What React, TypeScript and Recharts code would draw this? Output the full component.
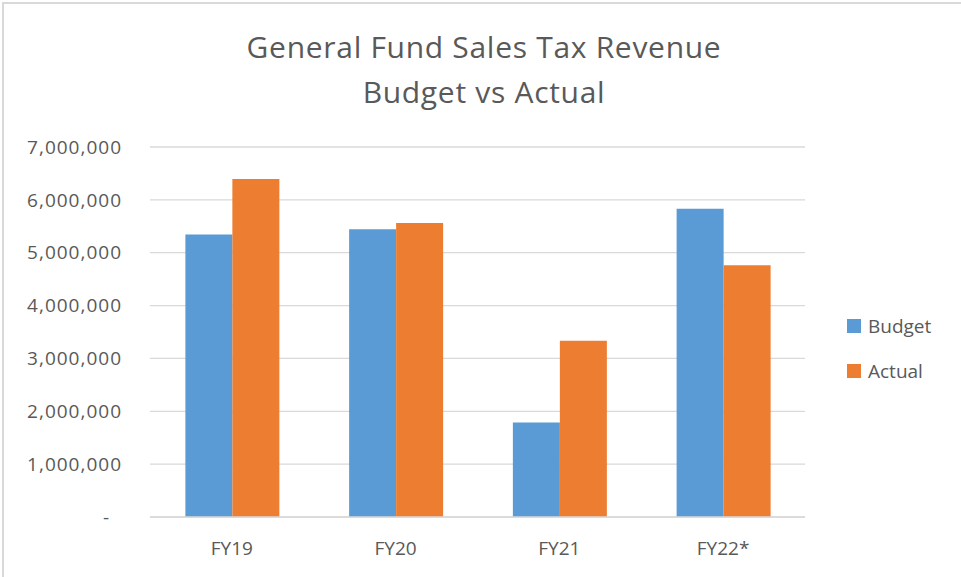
import React from "react";
import { Bar, BarChart, CartesianGrid, XAxis, YAxis } from "recharts";

const years = ["FY19", "FY20", "FY21", "FY22*"];
const budget = [5344000, 5446000, 1789000, 5830000];
const actual = [6394000, 5560000, 3335000, 4764000];
const yTicks = [0, 1000000, 2000000, 3000000, 4000000, 5000000, 6000000, 7000000];

const series = [
  { key: "Budget", color: "#5b9bd5" },
  { key: "Actual", color: "#ed7d31" },
];

const data = years.map((fy, i) => ({ fy, Budget: budget[i], Actual: actual[i] }));

const FONT = "'Open Sans', 'Noto Sans', sans-serif";
const TEXT = "#595959";

const YTick = (props: any) => {
  const { x, y, payload } = props;
  const v = payload.value;
  const label = v === 0 ? "-" : v.toLocaleString("en-US");
  return (
    <text
      x={v === 0 ? x - 12 : x}
      y={y}
      dy="0.35em"
      textAnchor="end"
      fill={TEXT}
      fontSize={19}
      fontFamily={FONT}
      letterSpacing={1}
    >
      {label}
    </text>
  );
};

export default function App() {
  return (
    <div
      style={{
        position: "absolute",
        left: 0,
        top: 0,
        width: 961,
        height: 577,
        overflow: "hidden",
        background: "#fff",
      }}
    >
      <div
        style={{
          position: "absolute",
          left: 2,
          top: 2,
          width: 1000,
          height: 700,
          borderTop: "2px solid #d9d9d9",
          borderLeft: "2px solid #d9d9d9",
        }}
      />
      <div
        style={{
          position: "absolute",
          left: 0,
          top: 24,
          width: 968,
          textAlign: "center",
          fontFamily: FONT,
          fontSize: 30,
          letterSpacing: 0.7,
          lineHeight: "45px",
          color: TEXT,
        }}
      >
        General Fund Sales Tax Revenue
        <br />
        Budget vs Actual
      </div>
      <div style={{ position: "absolute", left: 0, top: 0 }}>
        <BarChart
          width={961}
          height={577}
          data={data}
          margin={{ top: 147, right: 156, bottom: 30, left: 0 }}
          barCategoryGap="21.6%"
          barGap={0}
        >
          <CartesianGrid vertical={false} stroke="#d9d9d9" strokeWidth={1.3} />
          <XAxis
            dataKey="fy"
            height={30}
            axisLine={{ stroke: "#d9d9d9", strokeWidth: 1.3 }}
            tickLine={false}
            tickSize={0}
            tickMargin={25}
            tick={{ fill: TEXT, fontSize: 19, fontFamily: FONT }}
          />
          <YAxis
            width={150}
            domain={[0, 7000000]}
            ticks={yTicks}
            axisLine={false}
            tickLine={false}
            tickSize={0}
            tickMargin={28}
            tick={<YTick />}
          />
          {series.map((s) => (
            <Bar key={s.key} dataKey={s.key} fill={s.color} isAnimationActive={false} />
          ))}
        </BarChart>
      </div>
      <div
        style={{
          position: "absolute",
          left: 847,
          top: 303,
          fontFamily: FONT,
          fontSize: 19,
          color: TEXT,
        }}
      >
        {series.map((s) => (
          <div key={s.key} style={{ display: "flex", alignItems: "center", height: 45 }}>
            <span style={{ width: 14, height: 14, background: s.color, marginRight: 7 }} />
            <span>{s.key}</span>
          </div>
        ))}
      </div>
    </div>
  );
}
